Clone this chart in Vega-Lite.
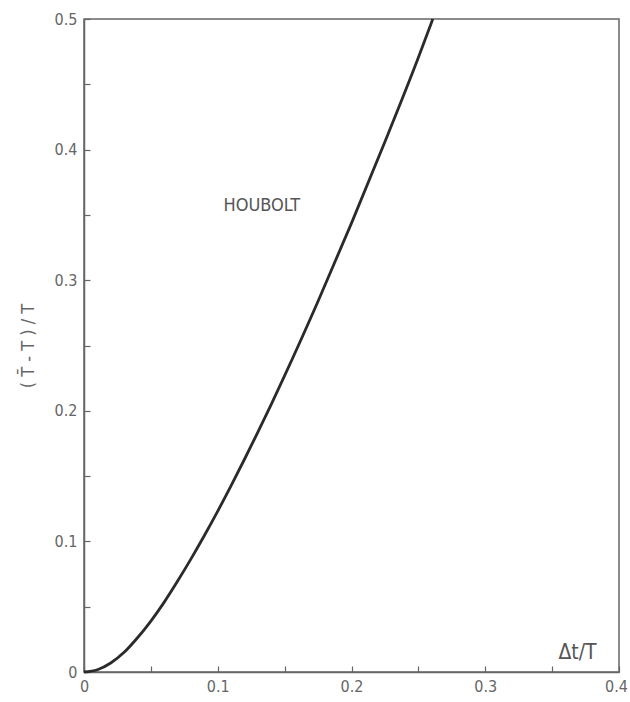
{
  "$schema": "https://vega.github.io/schema/vega-lite/v6.json",
  "width": 535,
  "height": 653,
  "autosize": {"type": "none"},
  "padding": {"left": 84, "top": 19, "right": 11, "bottom": 30},
  "background": "white",
  "config": {
    "view": {"stroke": "#666", "strokeWidth": 1.5},
    "axis": {
      "domainColor": "#666",
      "domainWidth": 1.5,
      "tickColor": "#666",
      "tickWidth": 1.2,
      "grid": false,
      "labelColor": "#666",
      "labelFont": "DejaVu Sans Condensed",
      "labelFontSize": 16,
      "titleColor": "#666",
      "titleFont": "DejaVu Sans Condensed",
      "titleFontSize": 18,
      "titleFontWeight": "normal"
    }
  },
  "datasets": {
    "curve": [
      {"dt": 0.0, "pe": 0.0},
      {"dt": 0.01, "pe": 0.00174},
      {"dt": 0.02, "pe": 0.0069},
      {"dt": 0.03, "pe": 0.01505},
      {"dt": 0.04, "pe": 0.0262},
      {"dt": 0.05, "pe": 0.039},
      {"dt": 0.06, "pe": 0.0535},
      {"dt": 0.07, "pe": 0.0696},
      {"dt": 0.08, "pe": 0.0866},
      {"dt": 0.09, "pe": 0.1045},
      {"dt": 0.1, "pe": 0.1232},
      {"dt": 0.11, "pe": 0.1427},
      {"dt": 0.12, "pe": 0.1629},
      {"dt": 0.13, "pe": 0.1837},
      {"dt": 0.14, "pe": 0.205},
      {"dt": 0.15, "pe": 0.2269},
      {"dt": 0.175, "pe": 0.2839},
      {"dt": 0.2, "pe": 0.3437},
      {"dt": 0.225, "pe": 0.406},
      {"dt": 0.25, "pe": 0.4705},
      {"dt": 0.2608, "pe": 0.5}
    ],
    "labels": [
      {"dt": 0.133, "pe": 0.357, "text": "HOUBOLT", "size": 18},
      {"dt": 0.369, "pe": 0.0145, "text": "Δt/T", "size": 21}
    ]
  },
  "layer": [
    {
      "data": {"name": "curve"},
      "mark": {"type": "line", "color": "#2a2a2a", "strokeWidth": 2.8, "interpolate": "monotone"},
      "encoding": {
        "x": {
          "field": "dt", "type": "quantitative",
          "scale": {"domain": [0, 0.4], "nice": false},
          "axis": {
            "title": null,
            "values": [0, 0.05, 0.1, 0.15, 0.2, 0.25, 0.3, 0.35, 0.4],
            "labelExpr": "(round(datum.value*100) % 10 == 0) ? (datum.value == 0 ? '0' : format(datum.value, '.1f')) : ''",
            "tickSize": -6,
            "labelPadding": 12,
            "labelOffset": {"condition": {"test": "datum.value >= 0.39", "value": -3}, "value": 0},
            "labelFlush": false,
            "labelOverlap": false
          }
        },
        "y": {
          "field": "pe", "type": "quantitative",
          "scale": {"domain": [0, 0.5], "nice": false},
          "axis": {
            "title": "( T\u0304 - T ) / T",
            "titlePadding": 17,
            "values": [0, 0.05, 0.1, 0.15, 0.2, 0.25, 0.3, 0.35, 0.4, 0.45, 0.5],
            "labelExpr": "(round(datum.value*100) % 10 == 0) ? (datum.value == 0 ? '0' : format(datum.value, '.1f')) : ''",
            "tickSize": -6,
            "labelPadding": 13,
            "labelFlush": false,
            "labelOverlap": false
          }
        }
      }
    },
    {
      "data": {"name": "labels"},
      "mark": {"type": "text", "font": "DejaVu Sans Condensed", "color": "#555", "align": "center", "baseline": "middle"},
      "encoding": {
        "x": {"field": "dt", "type": "quantitative"},
        "y": {"field": "pe", "type": "quantitative"},
        "text": {"field": "text"},
        "size": {"field": "size", "type": "quantitative", "scale": null}
      }
    }
  ]
}
